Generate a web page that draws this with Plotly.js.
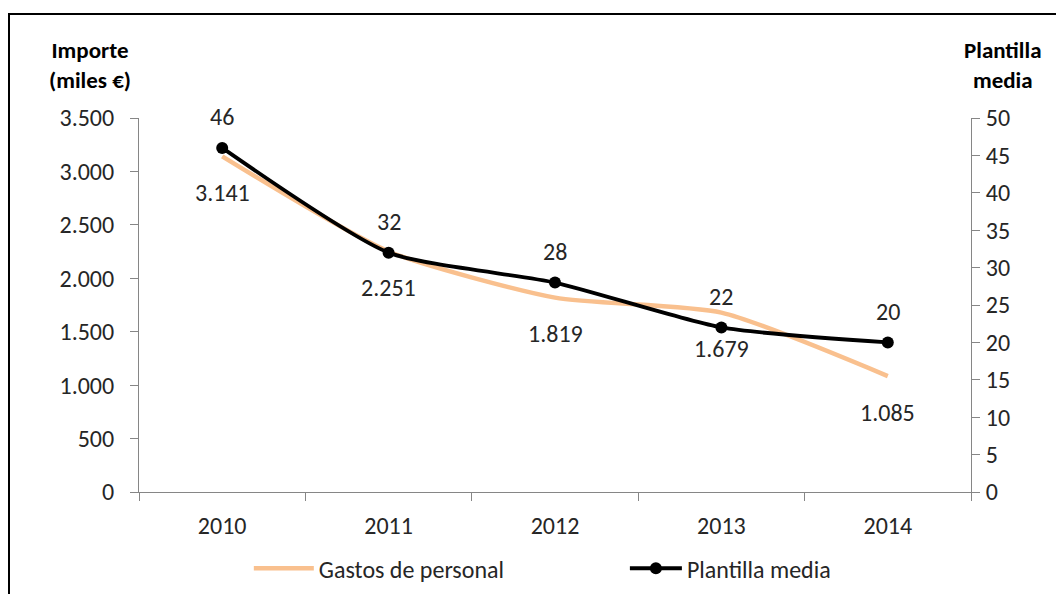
<!DOCTYPE html>
<html>
<head>
<meta charset="utf-8">
<script src="https://cdn.plot.ly/plotly-3.0.1.min.js"></script>
<style>
  html, body { margin: 0; padding: 0; background: #ffffff; }
  #wrap { position: relative; width: 1056px; height: 594px; overflow: hidden; }
  #chart { position: absolute; left: 0; top: 0; width: 1056px; height: 594px; }
  #frame { position: absolute; left: 8px; top: 13px; width: 1100px; height: 700px; border: 2px solid #000; pointer-events: none; }
</style>
</head>
<body>
<div id="wrap">
  <div id="chart"></div>
  <div id="frame"></div>
</div>
<script>
const years = ['2010', '2011', '2012', '2013', '2014'];
const gastosPersonal = [3141, 2251, 1819, 1679, 1085];
const plantillaMedia = [46, 32, 28, 22, 20];
const seriesNames = ['Gastos de personal', 'Plantilla media'];
const leftTitle = 'Importe<br>(miles €)';
const rightTitle = 'Plantilla<br>media';

const FONT = 'Carlito, Lato, "Liberation Sans", sans-serif';
const TXT = '#262626';
const FS = 24;

function fmt(v) {
  return String(v).replace(/\B(?=(\d{3})+(?!\d))/g, '.');
}

const traces = [
  {
    x: years, y: gastosPersonal, name: seriesNames[0],
    type: 'scatter', mode: 'lines',
    line: { color: '#F9C08E', width: 4.5, shape: 'spline', smoothing: 0.6 },
    yaxis: 'y', legend: 'legend', hoverinfo: 'skip'
  },
  {
    x: years, y: plantillaMedia, name: seriesNames[1],
    type: 'scatter', mode: 'lines+markers',
    line: { color: '#000000', width: 3.8, shape: 'spline', smoothing: 0.6 },
    marker: { color: '#000000', size: 12 },
    yaxis: 'y2', legend: 'legend2', hoverinfo: 'skip'
  }
];

const annotations = [];
years.forEach((yr, i) => {
  annotations.push({
    x: i, y: gastosPersonal[i], xref: 'x', yref: 'y',
    text: fmt(gastosPersonal[i]), showarrow: false, yshift: -36,
    font: { family: FONT, size: FS, color: TXT }
  });
  annotations.push({
    x: i, y: plantillaMedia[i], xref: 'x', yref: 'y2',
    text: String(plantillaMedia[i]), showarrow: false, yshift: 31,
    font: { family: FONT, size: FS, color: TXT }
  });
});
annotations.push({
  xref: 'paper', yref: 'paper', x: -0.059, y: 1.142, xanchor: 'center', yanchor: 'middle',
  text: '<b>' + leftTitle + '</b>', showarrow: false, align: 'center',
  font: { family: FONT, size: 23, color: '#000' }
});
annotations.push({
  xref: 'paper', yref: 'paper', x: 1.038, y: 1.142, xanchor: 'center', yanchor: 'middle',
  text: '<b>' + rightTitle + '</b>', showarrow: false, align: 'center',
  font: { family: FONT, size: 23, color: '#000' }
});

const axisCommon = {
  showgrid: false, zeroline: false, showline: true,
  linecolor: '#868686', linewidth: 1,
  ticks: 'outside', ticklen: 8, tickcolor: '#868686', tickwidth: 1,
  tickfont: { family: FONT, size: FS, color: TXT }
};

const legendCommon = {
  orientation: 'h', y: -0.205, xanchor: 'left', yanchor: 'middle',
  font: { family: FONT, size: FS, color: TXT },
  bgcolor: 'rgba(0,0,0,0)'
};

const layout = {
  width: 1056, height: 594,
  margin: { l: 139, r: 85, t: 118, b: 102, autoexpand: false },
  paper_bgcolor: '#ffffff', plot_bgcolor: '#ffffff',
  separators: ',.',
  font: { family: FONT, size: FS, color: TXT },
  showlegend: true,
  legend: Object.assign({}, legendCommon, { x: 0.132, itemwidth: 60 }),
  legend2: Object.assign({}, legendCommon, { x: 0.584, itemwidth: 52 }),
  xaxis: Object.assign({}, axisCommon, {
    type: 'category', range: [-0.5, 4.5], tickson: 'boundaries',
    ticklabelstandoff: 12
  }),
  yaxis: Object.assign({}, axisCommon, {
    range: [0, 3500], dtick: 500, tick0: 0, tickformat: ',d',
    ticklabelstandoff: 11
  }),
  yaxis2: Object.assign({}, axisCommon, {
    overlaying: 'y', side: 'right',
    range: [0, 50], dtick: 5, tick0: 0,
    ticklabelstandoff: 1
  }),
  annotations: annotations
};

Plotly.newPlot('chart', traces, layout, { staticPlot: true, displayModeBar: false });
</script>
</body>
</html>
